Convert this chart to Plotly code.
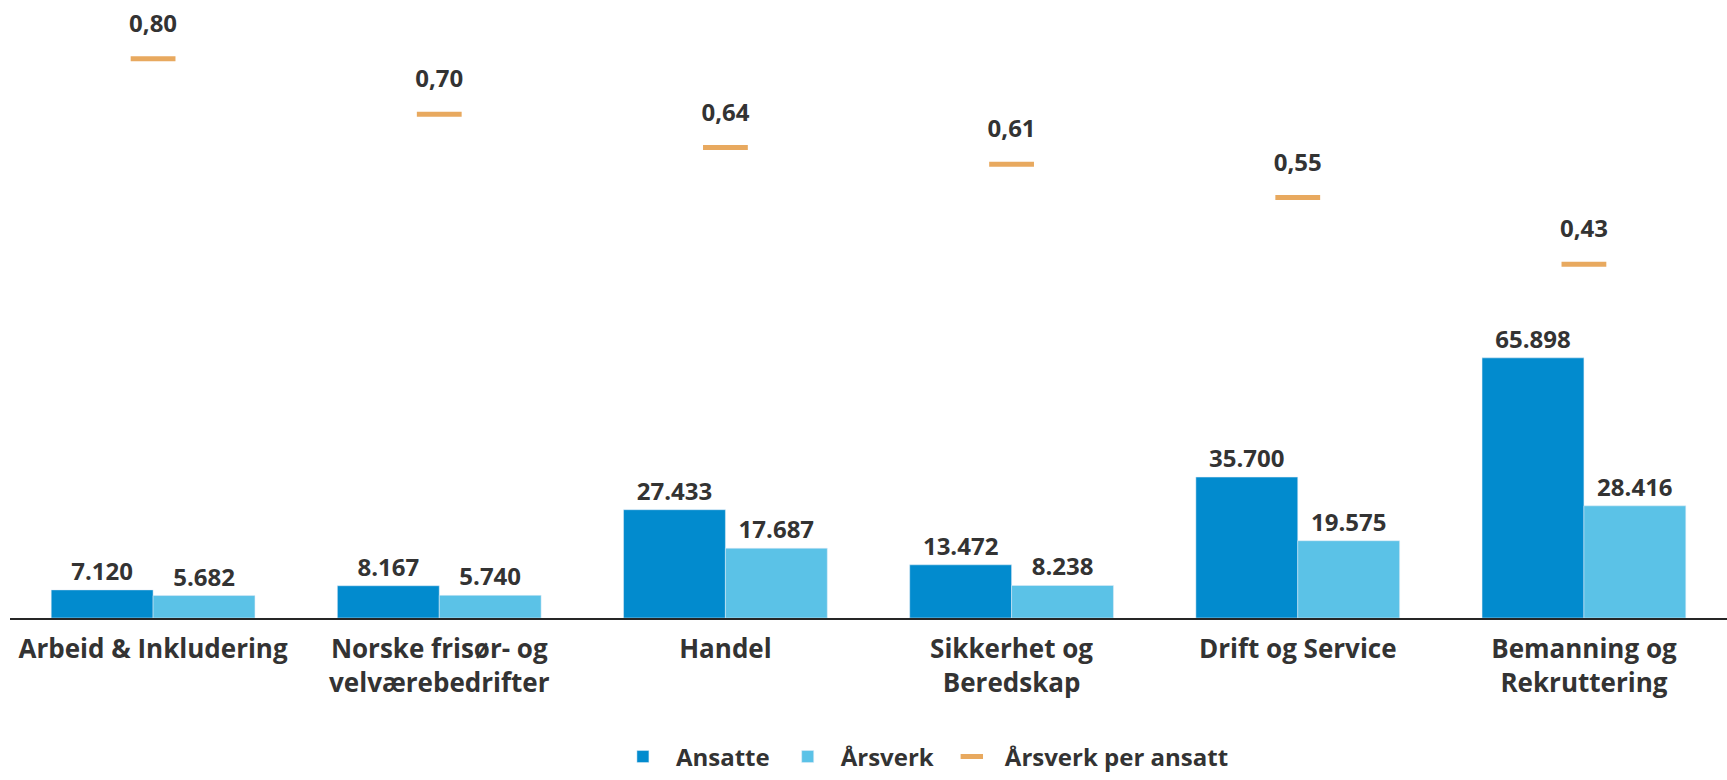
import plotly.graph_objects as go

categories = ["Arbeid & Inkludering", "Norske frisør- og<br>velværebedrifter", "Handel",
              "Sikkerhet og<br>Beredskap", "Drift og Service", "Bemanning og<br>Rekruttering"]
ansatte = [7120, 8167, 27433, 13472, 35700, 65898]
arsverk = [5682, 5740, 17687, 8238, 19575, 28416]
per_ansatt = [0.80, 0.70, 0.64, 0.61, 0.55, 0.43]

FONT = "Open Sans"
TXT = "#333333"
C_ANS = "#028BCE"
C_ARS = "#5BC2E7"
C_ORA = "#E8A95F"

fig = go.Figure()
fig.add_trace(go.Bar(
    x=categories, y=ansatte, name="Ansatte", marker_color=C_ANS,
    texttemplate="%{y:,.0f}", textposition="outside", cliponaxis=False,
    textfont=dict(family=FONT, size=24, color=TXT, weight="bold"),
))
fig.add_trace(go.Bar(
    x=categories, y=arsverk, name="Årsverk", marker_color=C_ARS,
    texttemplate="%{y:,.0f}", textposition="outside", cliponaxis=False,
    textfont=dict(family=FONT, size=24, color=TXT, weight="bold"),
))
fig.add_trace(go.Scatter(
    x=categories, y=per_ansatt, name="Årsverk per ansatt", yaxis="y2",
    mode="markers+text",
    marker=dict(symbol="line-ew", size=32, color=C_ORA, line=dict(color=C_ORA, width=5)),
    texttemplate="%{y:.2f}", textposition="top center", cliponaxis=False,
    textfont=dict(family=FONT, size=24, color=TXT, weight="bold"),
))

fig.update_layout(
    width=1727, height=780,
    margin=dict(l=10, r=0, t=11, b=153),
    paper_bgcolor="white", plot_bgcolor="white",
    separators=",.",
    barmode="group", bargap=0.288, bargroupgap=0,
    font=dict(family=FONT, size=24, color=TXT, weight="bold"),
    showlegend=True,
    legend=dict(orientation="h", x=0.3494, xanchor="left", y=-0.2289, yanchor="middle",
                itemwidth=56,
                font=dict(family=FONT, size=24, color=TXT, weight="bold"),
                traceorder="normal"),
    xaxis=dict(showline=True, linecolor="#262626", linewidth=2, ticks="",
               ticklabelstandoff=7,
               tickfont=dict(family=FONT, size=26, color=TXT, weight="bold"),
               showgrid=False, zeroline=False),
    yaxis=dict(range=[0, 153770], visible=False, showgrid=False, zeroline=False),
    yaxis2=dict(range=[-0.2071, 0.886], overlaying="y", visible=False,
                showgrid=False, zeroline=False),
)

fig.write_html("out.html", config={"displayModeBar": False},
               post_script="document.body.style.margin='0';document.body.style.overflow='hidden';")
